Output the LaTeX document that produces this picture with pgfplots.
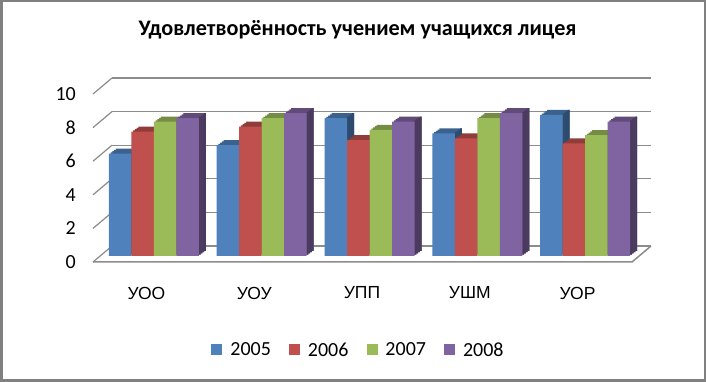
\documentclass[border=0pt]{standalone}
\usepackage{pgfplots}
\pgfplotsset{compat=1.18}
\usepackage{pgfplotstable}
\usepackage{fontspec}
\setmainfont{Carlito}
\newfontfamily\arialf{Liberation Sans}
\definecolor{cA}{HTML}{4F81BD}
\definecolor{cB}{HTML}{C0504D}
\definecolor{cC}{HTML}{9BBB59}
\definecolor{cD}{HTML}{8064A2}
\colorlet{tA}{cA!75!black}\colorlet{sA}{cA!58!black}
\colorlet{tB}{cB!75!black}\colorlet{sB}{cB!58!black}
\colorlet{tC}{cC!75!black}\colorlet{sC}{cC!58!black}
\colorlet{tD}{cD!75!black}\colorlet{sD}{cD!58!black}
\definecolor{gridc}{HTML}{8C8C8C}
\pgfplotstableread{
x a b c d
1 6.1 7.4 8.0 8.2
2 6.6 7.7 8.2 8.5
3 8.2 6.9 7.5 8.0
4 7.3 7.0 8.2 8.5
5 8.4 6.7 7.2 8.0
}\data
% top-face step k: #1 colour, #2 base shift, #3 column, #4 k
\newcommand\topstep[4]{%
  \pgfmathsetmacro\xs{#2+1.75*#4}\pgfmathsetmacro\ys{1.25*#4}%
  \edef\tmp{\noexpand\addplot[forget plot, fill=#1, draw=none, bar width=22.5pt, bar shift=\xs pt, yshift=\ys pt] table[x=x,y=#3]{\noexpand\data};}\tmp}
\newcommand\sidestep[4]{%
  \pgfmathsetmacro\xs{#2+11.25+1.75*#4-0.875}\pgfmathsetmacro\ys{1.25*#4}%
  \edef\tmp{\noexpand\addplot[forget plot, fill=#1, draw=none, bar width=1.8pt, bar shift=\xs pt, yshift=\ys pt] table[x=x,y=#3]{\noexpand\data};}\tmp}
% #1 front, #2 top, #3 side, #4 shift (number, pt), #5 column
\newcommand\barseries[5]{%
  \topstep{#2}{#4}{#5}{4}\topstep{#2}{#4}{#5}{3}\topstep{#2}{#4}{#5}{2}\topstep{#2}{#4}{#5}{1}%
  \sidestep{#3}{#4}{#5}{4}\sidestep{#3}{#4}{#5}{3}\sidestep{#3}{#4}{#5}{2}\sidestep{#3}{#4}{#5}{1}%
  \edef\tmp{\noexpand\addplot[fill=#1, draw=none, bar width=22.5pt, bar shift=#4pt] table[x=x,y=#5]{\noexpand\data};}\tmp
}
\begin{document}
\begin{tikzpicture}
\useasboundingbox (0,0) rectangle (706pt,382pt);
\fill[white] (0,0) rectangle (706pt,382pt);
\draw[line width=2.5pt, color=gray] (1.25pt,1.25pt) rectangle (704.75pt,380.75pt);
\node[font=\fontsize{22.2}{26}\selectfont\bfseries, inner sep=0pt] at (357.5pt,352pt) {Удовлетворённость учением учащихся лицея};
\begin{axis}[
  at={(100pt,126pt)}, anchor=south west,
  scale only axis, width=539pt, height=168pt,
  ybar, clip=false,
  xmin=0.5, xmax=5.5, ymin=0, ymax=10,
  xtick=data, xticklabels={УОО,УОУ,УПП,УШМ,УОР},
  ytick={0,2,...,10},
  axis line style={draw=none},
  major tick length=0pt,
  /pgf/number format/assume math mode=true,
  yticklabel style={font=\fontsize{20}{24}\selectfont, anchor=east, inner sep=0pt, xshift=-24pt, yshift=-6pt},
  xticklabel style={font=\arialf\fontsize{17.5}{20}\selectfont, anchor=center, inner sep=0pt, xshift=-7.5pt, yshift=-37pt},
  ymajorgrids,
  major grid style={draw=gridc, line width=1.2pt, xshift=12pt, yshift=10pt},
  legend columns=4,
  legend style={at={(0.5,0)}, anchor=center, xshift=-11pt, yshift=-94pt, draw=none, fill=none,
    font=\fontsize{20}{24}\selectfont, inner sep=0pt,
    /tikz/every odd column/.append style={column sep=6pt},
    /tikz/every even column/.append style={column sep=16pt}},
  legend image code/.code={\fill[#1] (0pt,-5.5pt) rectangle (11pt,5.5pt);},
]
\pgfplotsinvokeforeach{0,2,4,6,8,10}{
  \draw[gridc, line width=1.2pt] ([xshift=-7pt,yshift=-6pt]axis cs:0.5,#1) -- ([xshift=12pt,yshift=10pt]axis cs:0.5,#1);
}
\draw[gridc, line width=1.5pt] ([xshift=-7pt,yshift=-6pt]axis cs:0.5,0) -- ([xshift=-7pt,yshift=-6pt]axis cs:5.5,0) -- ([xshift=12pt,yshift=10pt]axis cs:5.5,0);
\barseries{cA}{tA}{sA}{-33.75}{a}
\barseries{cB}{tB}{sB}{-11.25}{b}
\barseries{cC}{tC}{sC}{11.25}{c}
\barseries{cD}{tD}{sD}{33.75}{d}
\legend{2005,2006,2007,2008}
\end{axis}
\end{tikzpicture}
\end{document}
